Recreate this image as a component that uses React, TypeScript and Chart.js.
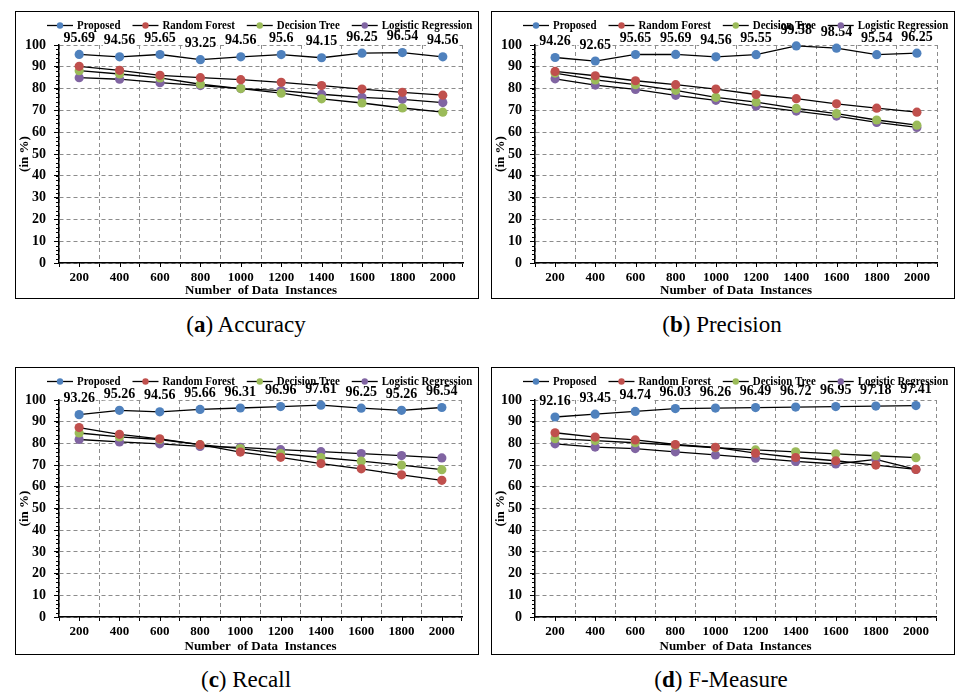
import React, { useEffect, useRef } from "react";
import { Chart, registerables } from "chart.js";

Chart.register(...registerables);

const categories = ["200", "400", "600", "800", "1000", "1200", "1400", "1600", "1800", "2000"];
const seriesNames = ["Proposed", "Random Forest", "Decision Tree", "Logistic Regression"];
const seriesColors = ["#4f81bd", "#c0504d", "#9bbb59", "#8064a2"];
const yMin = 0;
const yMax = 100;
const yStep = 10;
const xAxisTitle = "Number  of Data  Instances";
const yAxisTitle = "(in %)";

// (a) Accuracy
const accuracyProposed = [95.69, 94.56, 95.65, 93.25, 94.56, 95.6, 94.15, 96.25, 96.54, 94.56];
const accuracyRandomForest = [90.2, 88.4, 86.1, 85.0, 84.1, 82.9, 81.4, 79.8, 78.3, 77.0];
const accuracyDecisionTree = [88.2, 86.7, 84.9, 82.0, 80.0, 77.9, 75.3, 73.4, 71.1, 69.2];
const accuracyLogistic = [85.0, 84.3, 82.7, 81.4, 80.0, 79.1, 77.4, 76.0, 75.1, 73.6];

// (b) Precision
const precisionProposed = [94.26, 92.65, 95.65, 95.69, 94.56, 95.55, 99.58, 98.54, 95.54, 96.25];
const precisionRandomForest = [87.9, 85.9, 83.6, 81.8, 79.8, 77.3, 75.4, 73.0, 71.0, 69.2];
const precisionDecisionTree = [87.1, 84.0, 81.8, 79.2, 76.0, 73.8, 70.9, 68.5, 65.6, 63.2];
const precisionLogistic = [84.5, 81.6, 79.6, 76.9, 74.6, 72.0, 69.7, 67.4, 64.5, 62.2];

// (c) Recall
const recallProposed = [93.26, 95.26, 94.56, 95.66, 96.31, 96.96, 97.61, 96.25, 95.26, 96.54];
const recallRandomForest = [87.3, 84.2, 82.1, 79.4, 76.0, 73.6, 70.7, 68.3, 65.5, 63.0];
const recallDecisionTree = [84.8, 83.0, 81.8, 79.4, 77.6, 75.3, 73.5, 71.8, 70.0, 67.9];
const recallLogistic = [81.8, 80.7, 79.8, 78.6, 78.2, 77.1, 76.2, 75.3, 74.4, 73.3];

// (d) F-Measure
const fmeasureProposed = [92.16, 93.45, 94.74, 96.03, 96.26, 96.49, 96.72, 96.95, 97.18, 97.41];
const fmeasureRandomForest = [84.9, 82.9, 81.6, 79.5, 78.2, 75.5, 73.5, 72.0, 70.0, 68.0];
const fmeasureDecisionTree = [82.2, 81.3, 80.3, 79.2, 78.0, 77.0, 76.1, 75.2, 74.3, 73.4];
const fmeasureLogistic = [79.8, 78.3, 77.6, 76.1, 74.7, 73.2, 71.7, 70.5, 72.6, 68.0];

const FONT = '"Liberation Serif", "Times New Roman", Times, serif';
Chart.defaults.font.family = FONT;

type Panel = {
  letter: string;
  caption: string;
  series: number[][];
  box: { left: number; top: number; width: number; height: number };
  padTop: number;
  padRight: number;
  yW: number;
  xH: number;
  capX: number;
  capY: number;
};

const panels: Panel[] = [
  {
    letter: "a",
    caption: "Accuracy",
    series: [accuracyProposed, accuracyRandomForest, accuracyDecisionTree, accuracyLogistic],
    box: { left: 15, top: 11, width: 464, height: 288 },
    padTop: 33, padRight: 15, yW: 43, xH: 35, capX: 246, capY: 325,
  },
  {
    letter: "b",
    caption: "Precision",
    series: [precisionProposed, precisionRandomForest, precisionDecisionTree, precisionLogistic],
    box: { left: 491, top: 11, width: 464, height: 288 },
    padTop: 33, padRight: 17, yW: 43, xH: 35, capX: 722, capY: 325,
  },
  {
    letter: "c",
    caption: "Recall",
    series: [recallProposed, recallRandomForest, recallDecisionTree, recallLogistic],
    box: { left: 15, top: 367, width: 464, height: 288 },
    padTop: 32, padRight: 16, yW: 43, xH: 37, capX: 246, capY: 680,
  },
  {
    letter: "d",
    caption: "F-Measure",
    series: [fmeasureProposed, fmeasureRandomForest, fmeasureDecisionTree, fmeasureLogistic],
    box: { left: 491, top: 367, width: 464, height: 288 },
    padTop: 32, padRight: 18, yW: 43, xH: 37, capX: 721, capY: 680,
  },
];

const extrasPlugin = {
  id: "extras",
  afterDraw(chart: any) {
    const ctx = chart.ctx as CanvasRenderingContext2D;
    const xs = chart.scales.x;
    const ys = chart.scales.y;
    const area = chart.chartArea;
    ctx.save();
    // minor ticks on y axis
    ctx.strokeStyle = "#000";
    ctx.lineWidth = 1;
    for (let v = yMin; v <= yMax; v += 2) {
      const y = Math.round(ys.getPixelForValue(v)) + 0.5;
      ctx.beginPath();
      ctx.moveTo(area.left - 3, y);
      ctx.lineTo(area.left, y);
      ctx.stroke();
    }
    // ticks at category centres
    for (let i = 0; i < categories.length; i++) {
      const x = Math.round(xs.getPixelForValue(i)) + 0.5;
      ctx.beginPath();
      ctx.moveTo(x, area.bottom);
      ctx.lineTo(x, area.bottom + 4);
      ctx.stroke();
    }
    // data labels for Proposed
    const meta = chart.getDatasetMeta(0);
    const vals = chart.data.datasets[0].data as number[];
    ctx.font = `bold 14px ${FONT}`;
    ctx.textAlign = "center";
    ctx.textBaseline = "middle";
    meta.data.forEach((pt: any, i: number) => {
      const txt = String(vals[i]);
      const w = ctx.measureText(txt).width;
      const ly = pt.y - 16;
      ctx.fillStyle = "#fff";
      ctx.fillRect(pt.x - w / 2 - 1, ly - 6, w + 2, 12);
      ctx.fillStyle = "#000";
      ctx.fillText(txt, pt.x, ly);
    });
    // legend (slightly condensed text)
    const sx = 0.91;
    ctx.font = `bold 12px ${FONT}`;
    ctx.textAlign = "left";
    ctx.textBaseline = "middle";
    let lx = area.left - 12;
    const legY = 13.5;
    chart.data.datasets.forEach((ds: any, i: number) => {
      ctx.strokeStyle = "#000";
      ctx.lineWidth = 1.3;
      ctx.beginPath();
      ctx.moveTo(lx, legY);
      ctx.lineTo(lx + 26, legY);
      ctx.stroke();
      ctx.fillStyle = seriesColors[i];
      ctx.beginPath();
      ctx.arc(lx + 13, legY, 3.2, 0, Math.PI * 2);
      ctx.fill();
      ctx.fillStyle = "#000";
      ctx.save();
      ctx.translate(lx + 30, legY + 0.5);
      ctx.scale(sx, 1);
      ctx.fillText(ds.label, 0, 0);
      ctx.restore();
      lx += 30 + ctx.measureText(ds.label).width * sx + 12;
    });
    ctx.restore();
  },
};

function ChartPanel({ panel }: { panel: Panel }) {
  const ref = useRef<HTMLCanvasElement | null>(null);
  const cw = panel.box.width - 2;
  const chh = panel.box.height - 2;
  useEffect(() => {
    if (!ref.current) return;
    const chart = new Chart(ref.current, {
      type: "line",
      data: {
        labels: categories,
        datasets: panel.series.map((vals, i) => ({
          label: seriesNames[i],
          data: vals,
          borderColor: "#000",
          borderWidth: 1.3,
          pointBackgroundColor: seriesColors[i],
          pointBorderColor: seriesColors[i],
          pointBorderWidth: 0,
          pointRadius: 4.6,
          pointHoverRadius: 4.6,
          tension: 0,
          fill: false,
          clip: false as any,
        })),
      },
      options: {
        responsive: false,
        animation: false,
        events: [],
        layout: { padding: { top: panel.padTop, right: panel.padRight, left: 0, bottom: 0 } },
        plugins: { legend: { display: false }, tooltip: { enabled: false } },
        scales: {
          x: {
            type: "category",
            offset: true,
            grid: {
              offset: true,
              color: "#8c8c8c",
              lineWidth: 1,
              drawTicks: true,
              tickLength: 4,
              tickColor: "#000",
            },
            border: { display: true, color: "#000", width: 1.5, dash: [4, 3] },
            ticks: {
              color: "#000",
              font: { family: FONT, size: 13, weight: "bold" },
              padding: 3,
              maxRotation: 0,
              autoSkip: false,
            },
            title: {
              display: true,
              text: xAxisTitle,
              color: "#000",
              font: { family: FONT, size: 13, weight: "bold" },
              padding: { top: 0, bottom: 0 },
            },
            afterFit: (s: any) => {
              s.height = panel.xH;
            },
          },
          y: {
            min: yMin,
            max: yMax,
            grid: {
              color: "#8c8c8c",
              lineWidth: 1,
              drawTicks: true,
              tickLength: 5,
              tickColor: "#000",
            },
            border: { display: true, color: "#000", width: 1.5, dash: [4, 3] },
            ticks: {
              stepSize: yStep,
              color: "#000",
              font: { family: FONT, size: 14, weight: "bold" },
              padding: 8,
            },
            title: {
              display: true,
              text: yAxisTitle,
              color: "#000",
              font: { family: FONT, size: 13, weight: "bold" },
              padding: { top: 1, bottom: 0 },
            },
            afterFit: (s: any) => {
              s.width = panel.yW;
            },
          },
        },
      } as any,
      plugins: [extrasPlugin],
    });
    let alive = true;
    if ((document as any).fonts && (document as any).fonts.load) {
      Promise.all([
        (document as any).fonts.load(`bold 14px "Liberation Serif"`),
        (document as any).fonts.load(`14px "Liberation Serif"`),
      ])
        .then(() => {
          if (alive) chart.update();
        })
        .catch(() => {});
    }
    return () => {
      alive = false;
      chart.destroy();
    };
  }, [panel]);

  return (
    <>
      <div
        style={{
          position: "absolute",
          left: panel.box.left,
          top: panel.box.top,
          width: panel.box.width - 2,
          height: panel.box.height - 2,
          border: "1px solid #000",
          background: "#fff",
        }}
      >
        <canvas ref={ref} width={cw} height={chh} style={{ display: "block", width: cw, height: chh }} />
      </div>
      <div
        style={{
          position: "absolute",
          left: panel.capX - 120,
          top: panel.capY - 14,
          width: 240,
          height: 28,
          lineHeight: "28px",
          textAlign: "center",
          fontFamily: FONT,
          fontSize: 23,
          color: "#000",
          whiteSpace: "nowrap",
        }}
      >
        (<b>{panel.letter}</b>) {panel.caption}
      </div>
    </>
  );
}

export default function App() {
  return (
    <div
      style={{
        position: "absolute",
        left: 0,
        top: 0,
        width: 955,
        height: 693,
        overflow: "hidden",
        background: "#fff",
      }}
    >
      {panels.map((p) => (
        <ChartPanel key={p.letter} panel={p} />
      ))}
    </div>
  );
}
